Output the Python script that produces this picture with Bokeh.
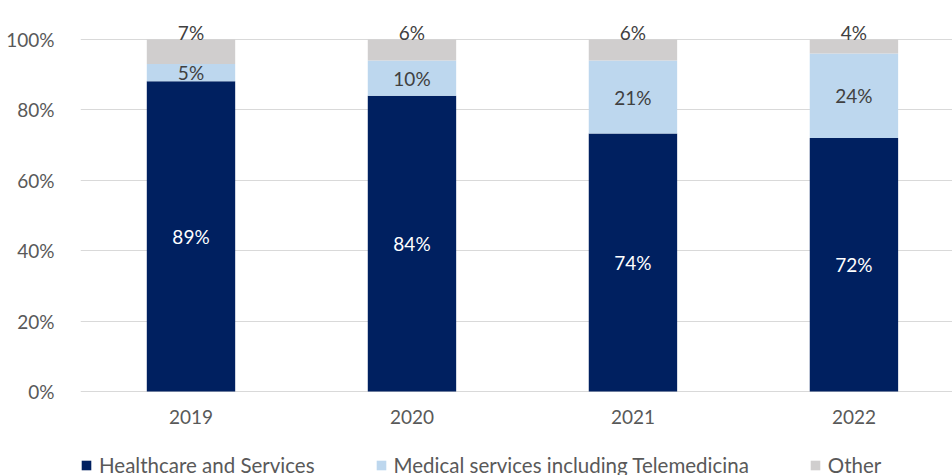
from bokeh.plotting import figure
from bokeh.models import ColumnDataSource, Range1d, FixedTicker, Legend, LegendItem
from bokeh.core.properties import value
from bokeh.embed import file_html
from bokeh.resources import INLINE

# Share of revenue by segment per year (percent, as labelled)
years = ["2019", "2020", "2021", "2022"]
healthcare = [89, 84, 74, 72]
medical = [5, 10, 21, 24]
other = [7, 6, 6, 4]
series_names = ["Healthcare and Services", "Medical services including Telemedicina", "Other"]
y_ticks = [0, 20, 40, 60, 80, 100]

colors = ["#002060", "#BDD7EE", "#D0CECE"]
FONT = "Lato"

x = list(range(len(years)))
totals = [h + m + o for h, m, o in zip(healthcare, medical, other)]
# 100% stacked: each segment is normalised by its year's total
h_n = [h * 100 / t for h, t in zip(healthcare, totals)]
m_n = [m * 100 / t for m, t in zip(medical, totals)]
o_n = [o * 100 / t for o, t in zip(other, totals)]

src = ColumnDataSource(dict(x=x, h=h_n, m=m_n, o=o_n))

# The frame runs to the bottom of the canvas; the strip under 0% holds
# the year labels and the legend.
p = figure(width=952, height=475, output_backend="svg", toolbar_location=None,
           x_range=Range1d(-0.5, 3.446), y_range=Range1d(-23.86, 111.08),
           min_border_left=80, min_border_right=0, min_border_top=0,
           min_border_bottom=0)
p.outline_line_color = None
p.background_fill_color = "white"

renderers = p.vbar_stack(["h", "m", "o"], x="x", width=0.4, color=colors,
                         line_color=None, source=src)

# Segment value labels
lab_h = ColumnDataSource(dict(x=x, y=[v / 2 for v in h_n],
                              t=[f"{v}%" for v in healthcare]))
lab_m = ColumnDataSource(dict(x=x, y=[a + b / 2 for a, b in zip(h_n, m_n)],
                              t=[f"{v}%" for v in medical]))
lab_o = ColumnDataSource(dict(x=x, y=[a + b + c for a, b, c in zip(h_n, m_n, o_n)],
                              t=[f"{v}%" for v in other]))
p.text(x="x", y="y", text="t", source=lab_h, text_align="center",
       text_baseline="middle", text_color="white",
       text_font=value(FONT), text_font_size="19px")
p.text(x="x", y="y", text="t", source=lab_m, text_align="center",
       text_baseline="middle", text_color="#404040",
       text_font=value(FONT), text_font_size="19px")
# "Other" labels sit on top of each bar, just touching it
p.text(x="x", y="y", text="t", source=lab_o, text_align="center",
       text_baseline="bottom", y_offset=4, text_color="#404040",
       text_font=value(FONT), text_font_size="19px")

# Category labels under the baseline
cat_src = ColumnDataSource(dict(x=x, y=[0] * len(x), t=years))
p.text(x="x", y="y", text="t", source=cat_src, text_align="center",
       text_baseline="middle", y_offset=25, text_color="#595959",
       text_font=value(FONT), text_font_size="19px")

# Axes
p.xaxis.visible = False
p.yaxis.ticker = FixedTicker(ticks=y_ticks)
p.yaxis.major_label_overrides = {t: f"{t}%" for t in y_ticks}
ax = p.yaxis[0]
ax.axis_line_color = None
ax.major_tick_line_color = None
ax.minor_tick_line_color = None
ax.major_label_text_font = FONT
ax.major_label_text_font_size = "19px"
ax.major_label_text_color = "#595959"
ax.major_label_standoff = 20

p.xgrid.grid_line_color = None
p.ygrid.grid_line_color = "#D9D9D9"
p.ygrid.grid_line_width = 1

legend = Legend(items=[LegendItem(label=n, renderers=[r])
                       for n, r in zip(series_names, renderers)],
                orientation="horizontal", location=(0, -2),
                border_line_color=None, background_fill_alpha=0,
                label_text_font=FONT, label_text_font_size="20.5px",
                label_text_color="#595959",
                glyph_width=12, glyph_height=12, label_standoff=7,
                spacing=60, padding=0, margin=0)
p.add_layout(legend)

open("out.html", "w").write(file_html(p, INLINE))
